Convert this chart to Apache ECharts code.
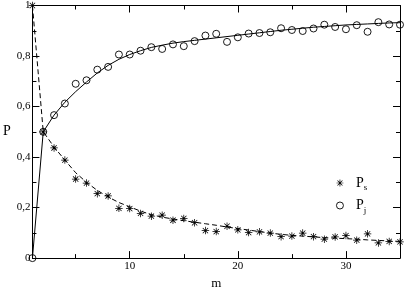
<!DOCTYPE html>
<html>
<head>
<meta charset="utf-8">
<script src="https://cdn.jsdelivr.net/npm/echarts@6/dist/echarts.min.js"></script>
<style>html,body{margin:0;padding:0;background:#fff;}#c{width:413px;height:295px;}</style>
</head>
<body>
<div id="c"></div>
<script>
const mValues = [1,2,3,4,5,6,7,8,9,10,11,12,13,14,15,16,17,18,19,20,21,22,23,24,25,26,27,28,29,30,31,32,33,34,35];
const pS = [1,0.50,0.436,0.388,0.313,0.297,0.255,0.246,0.197,0.196,0.177,0.166,0.170,0.150,0.157,0.140,0.109,0.105,0.126,0.112,0.101,0.104,0.099,0.085,0.087,0.099,0.085,0.075,0.084,0.089,0.071,0.096,0.060,0.066,0.064];
const pJ = [0,0.50,0.566,0.612,0.690,0.704,0.746,0.757,0.806,0.806,0.821,0.835,0.828,0.846,0.839,0.859,0.881,0.888,0.856,0.874,0.889,0.891,0.894,0.910,0.903,0.899,0.909,0.924,0.915,0.906,0.922,0.896,0.934,0.925,0.924];
const fitS = [1,0.50,0.440,0.388,0.338,0.300,0.268,0.242,0.220,0.203,0.186,0.172,0.162,0.155,0.148,0.142,0.136,0.130,0.123,0.117,0.111,0.105,0.099,0.094,0.090,0.087,0.084,0.081,0.079,0.077,0.075,0.072,0.070,0.068,0.066];
const fitJ = [0,0.50,0.566,0.617,0.659,0.697,0.733,0.763,0.787,0.806,0.821,0.834,0.843,0.851,0.857,0.862,0.867,0.872,0.877,0.882,0.887,0.892,0.897,0.902,0.906,0.910,0.914,0.917,0.920,0.923,0.925,0.927,0.929,0.931,0.932];
const xMajorTicks = [10,20,30];
const xMinorTicks = [5,15,25,35];

const FONT = 'Liberation Serif';
const star = 'path://M-1,-10L1,-10L1,10L-1,10Z M-10,-1L10,-1L10,1L-10,1Z M-7.8,-6.4L-6.4,-7.8L7.8,6.4L6.4,7.8Z M6.4,-7.8L7.8,-6.4L-6.4,7.8L-7.8,6.4Z';
const pairs = (ys) => mValues.map((m, i) => [m, ys[i]]);
const lineStyleAxis = {show: true, lineStyle: {color: '#000', width: 1}};

const chart = echarts.init(document.getElementById('c'), null, {renderer: 'canvas'});
chart.setOption({
  animation: false,
  backgroundColor: '#fff',
  grid: {left: 28, right: 13, top: 5, bottom: 23, containLabel: false},
  legend: {
    orient: 'vertical', left: 331, top: 171, itemGap: 6, itemWidth: 10, itemHeight: 7,
    data: [
      {name: 'Ps', icon: star},
      {name: 'Pj', icon: 'circle', itemStyle: {color: 'rgba(255,255,255,0)', borderColor: '#000', borderWidth: 0.9}}
    ],
    formatter: (n) => n === 'Ps' ? '{a|P}{b|s}' : '{a|P}{b|j}',
    textStyle: {
      fontFamily: FONT, color: '#000',
      rich: {
        a: {fontFamily: FONT, fontSize: 14, color: '#000', padding: [0,0,0,6]},
        b: {fontFamily: FONT, fontSize: 9, color: '#000', verticalAlign: 'bottom', padding: [10,0,0,0]}
      }
    }
  },
  xAxis: [
    {type: 'value', position: 'bottom', min: 1, max: 35,
     axisLine: lineStyleAxis,
     axisTick: {show: true, inside: true, length: 7, customValues: xMajorTicks, lineStyle: {color: '#000'}},
     axisLabel: {show: true, customValues: xMajorTicks, margin: 3, fontFamily: FONT, fontSize: 11, color: '#000'},
     splitLine: {show: false},
     name: 'm', nameLocation: 'middle', nameGap: 13, nameTextStyle: {fontFamily: FONT, fontSize: 13, color: '#000'}},
    {type: 'value', position: 'bottom', min: 1, max: 35, gridIndex: 0,
     axisLine: {show: false},
     axisTick: {show: true, inside: true, length: 4, customValues: xMinorTicks, lineStyle: {color: '#000'}},
     axisLabel: {show: false}, splitLine: {show: false}},
    {type: 'value', position: 'top', min: 1, max: 35,
     axisLine: lineStyleAxis,
     axisTick: {show: true, inside: true, length: 7, customValues: xMajorTicks, lineStyle: {color: '#000'}},
     axisLabel: {show: false}, splitLine: {show: false}},
    {type: 'value', position: 'top', min: 1, max: 35,
     axisLine: {show: false},
     axisTick: {show: true, inside: true, length: 4, customValues: xMinorTicks, lineStyle: {color: '#000'}},
     axisLabel: {show: false}, splitLine: {show: false}}
  ],
  yAxis: [
    {type: 'value', position: 'left', min: 0, max: 1, interval: 0.2,
     axisLine: lineStyleAxis,
     axisTick: {show: true, inside: true, length: 7, lineStyle: {color: '#000'}},
     minorTick: {show: true, splitNumber: 2, length: 4, lineStyle: {color: '#000'}},
     axisLabel: {margin: 2, fontFamily: FONT, fontSize: 11, color: '#000',
       formatter: (v) => String(Math.round(v * 10) / 10).replace('.', ',')},
     splitLine: {show: false}, minorSplitLine: {show: false},
     name: 'P', nameLocation: 'middle', nameRotate: 0, nameGap: 20,
     nameTextStyle: {fontFamily: FONT, fontSize: 14, color: '#000'}},
    {type: 'value', position: 'right', min: 0, max: 1, interval: 0.2,
     axisLine: lineStyleAxis,
     axisTick: {show: true, inside: true, length: 7, lineStyle: {color: '#000'}},
     minorTick: {show: true, splitNumber: 2, length: 4, lineStyle: {color: '#000'}},
     axisLabel: {show: false}, splitLine: {show: false}, minorSplitLine: {show: false}}
  ],
  series: [
    {name: 'fitS', type: 'line', data: pairs(fitS), showSymbol: false, symbol: 'none',
     lineStyle: {color: '#000', width: 1, type: [5, 3]}, silent: true, z: 2},
    {name: 'fitJ', type: 'line', data: pairs(fitJ), showSymbol: false, symbol: 'none',
     lineStyle: {color: '#000', width: 1}, silent: true, z: 2},
    {name: 'Ps', type: 'scatter', data: pairs(pS), symbol: star, symbolSize: 7.5, clip: false,
     itemStyle: {color: '#000', opacity: 1}, z: 3},
    {name: 'Pj', type: 'scatter', data: pairs(pJ), symbol: 'circle', symbolSize: 7, clip: false,
     itemStyle: {color: 'rgba(255,255,255,0)', borderColor: '#000', borderWidth: 0.9, opacity: 1}, z: 3}
  ]
});
</script>
</body>
</html>
